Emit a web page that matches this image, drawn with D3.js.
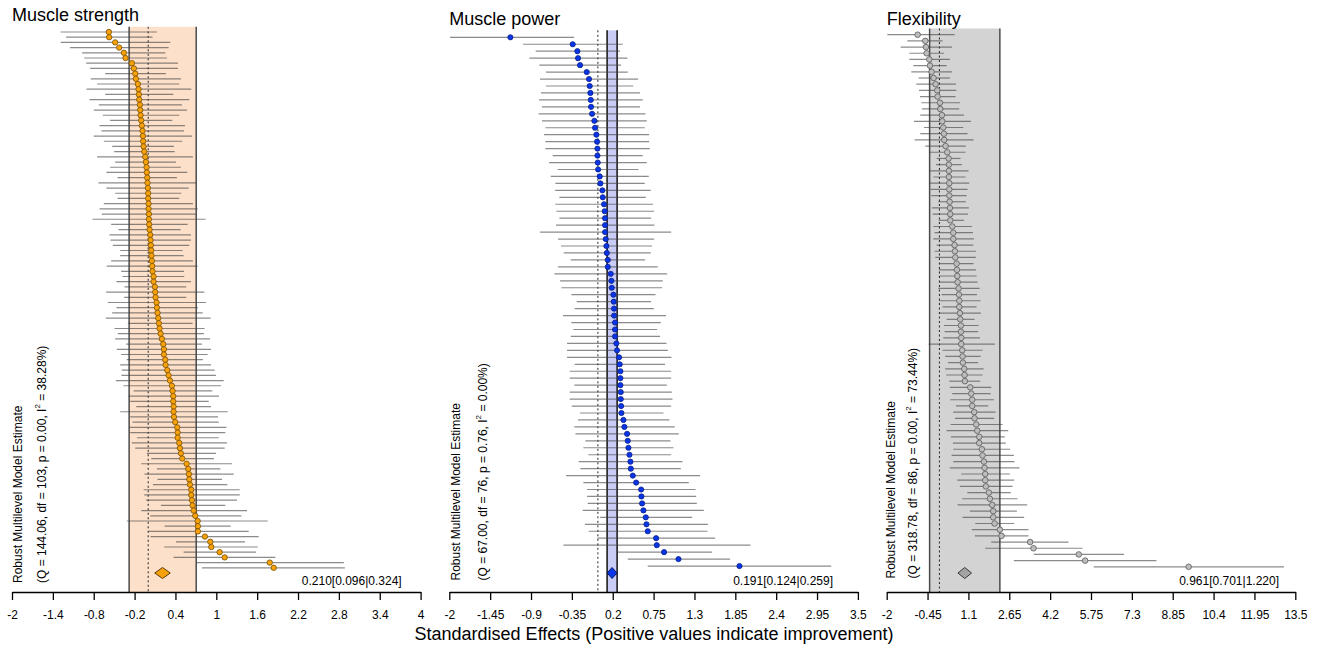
<!DOCTYPE html>
<html><head><meta charset="utf-8">
<script src="https://cdn.jsdelivr.net/npm/d3@7"></script>
<style>body{margin:0;background:#fff;} svg{display:block;font-family:"Liberation Sans",Arial,sans-serif;}</style>
</head><body><svg id="c" width="1319" height="648"></svg>
<script>
// ---------------- DATA ----------------
const panelTitles = ["Muscle strength", "Muscle power", "Flexibility"];

const strengthEst = [-0.578,-0.573,-0.485,-0.426,-0.357,-0.333,-0.24,-0.21,-0.19,-0.181,-0.152,-0.142,-0.137,-0.132,-0.122,-0.117,-0.112,-0.103,-0.093,-0.083,-0.078,-0.073,-0.068,-0.058,-0.044,-0.034,-0.024,-0.02,-0.014,-0.01,-0.005,0,0,
0.005,0.005,0.01,0.01,0.015,0.02,0.03,0.035,0.04,0.045,0.049,0.054,0.059,0.064,0.079,0.079,0.098,0.103,0.108,0.123,0.128,0.137,0.147,0.157,0.167,0.182,0.201,0.221,0.231,0.231,0.25,0.255,0.28,0.299,0.319,0.348,0.358,0.368,
0.368,0.373,0.373,0.378,0.397,0.427,0.432,0.432,0.456,0.466,0.481,0.5,0.564,0.588,0.598,0.603,0.613,0.632,0.632,0.642,0.652,0.667,0.691,0.726,0.73,0.73,0.833,0.912,0.927,1.049,1.123,1.785,1.843];
const strengthLo = [-1.284,-1.206,-1.284,-1.147,-0.97,-0.94,-0.911,-0.853,-0.632,-0.843,-0.75,-0.906,-0.632,-0.862,-0.725,-0.799,-0.666,-0.559,-0.715,-0.686,-0.799,-0.652,-0.529,-0.5,-0.75,-0.485,-0.559,-0.613,-0.45,-0.73,-0.613,-0.485,-0.45,
-0.652,-0.715,-0.681,-0.818,-0.544,-0.436,-0.568,-0.554,-0.519,-0.412,-0.412,-0.544,-0.608,-0.397,-0.377,-0.466,-0.348,-0.618,-0.353,-0.593,-0.466,-0.529,-0.622,-0.299,-0.495,-0.446,-0.485,-0.323,-0.461,-0.397,-0.314,-0.412,-0.387,-0.392,-0.475,-0.363,-0.215,-0.289,
-0.264,-0.176,-0.412,-0.264,-0.23,-0.274,-0.264,-0.166,-0.24,-0.191,-0.02,0.044,-0.103,0.128,-0.054,0.137,0.069,-0.068,-0.058,-0.029,0.187,-0.103,0.03,-0.313,0.24,0,0.035,0.407,0.235,0.52,0.373,0.706,0.79];
const strengthHi = [0.128,0.064,0.324,0.3,0.25,0.275,0.437,0.437,0.26,0.481,0.456,0.633,0.368,0.603,0.495,0.569,0.456,0.353,0.54,0.525,0.643,0.5,0.378,0.388,0.657,0.407,0.481,0.574,0.422,0.706,0.594,0.486,0.456,
0.657,0.726,0.701,0.843,0.579,0.476,0.628,0.628,0.603,0.505,0.52,0.657,0.726,0.525,0.53,0.628,0.559,0.824,0.559,0.848,0.73,0.799,0.917,0.652,0.829,0.819,0.907,0.79,0.922,0.873,0.804,0.922,0.976,0.995,1.108,1.069,0.941,1.04,
0.888,0.922,1.167,1.025,1.035,1.148,1.133,1.035,1.157,1.123,0.995,0.966,1.231,1.059,1.255,1.084,1.162,1.344,1.344,1.304,1.133,1.451,1.368,1.755,1.211,1.476,1.623,1.422,1.608,1.584,1.868,2.873,2.888];

const powerEst = [-1.178,-0.339,-0.276,-0.267,-0.24,-0.15,-0.119,-0.11,-0.101,-0.096,-0.092,-0.078,-0.047,-0.038,-0.02,-0.011,-0.006,-0.006,-0.002,0.003,0.025,0.034,0.061,0.066,
0.083,0.092,0.097,0.097,0.097,0.106,0.115,0.12,0.133,0.133,0.173,0.182,0.187,0.209,0.214,0.218,0.218,0.231,0.231,0.231,0.249,0.258,0.285,0.294,0.303,0.303,0.303,0.308,0.308,
0.313,0.317,0.344,0.357,0.393,0.402,0.411,0.425,0.438,0.443,0.47,0.515,0.582,0.586,0.595,0.613,0.645,0.654,0.671,0.784,0.793,0.891,1.085,1.906];
const powerLo = [-1.99,-1.007,-0.837,-0.922,-0.788,-0.698,-0.778,-0.698,-0.765,-0.792,-0.752,-0.797,-0.752,-0.707,-0.725,-0.707,-0.707,-0.608,-0.657,-0.541,-0.635,-0.572,-0.576,-0.518,
-0.572,-0.559,-0.518,-0.563,-0.778,-0.536,-0.496,-0.46,-0.365,-0.536,-0.585,-0.509,-0.491,-0.357,-0.285,-0.312,-0.469,-0.357,-0.329,-0.365,-0.415,-0.415,-0.415,-0.312,-0.379,-0.379,-0.316,-0.379,-0.379,
-0.352,-0.24,-0.267,-0.316,-0.302,-0.168,-0.195,-0.128,-0.258,-0.235,-0.428,-0.195,-0.146,-0.146,-0.137,-0.204,0.03,-0.173,-0.123,-0.006,-0.464,0.254,0.402,0.671];
const powerHi = [-0.32,0.335,0.299,0.398,0.313,0.402,0.541,0.478,0.568,0.604,0.568,0.64,0.658,0.631,0.69,0.69,0.699,0.604,0.658,0.546,0.685,0.631,0.712,0.645,
0.743,0.757,0.716,0.761,0.986,0.757,0.73,0.712,0.636,0.806,0.932,0.873,0.864,0.775,0.716,0.752,0.918,0.846,0.797,0.837,0.923,0.941,0.99,0.905,0.986,0.986,0.927,0.995,1.004,
0.986,0.882,0.963,1.035,1.089,0.977,1.017,0.986,1.138,1.116,1.376,1.224,1.314,1.323,1.332,1.426,1.269,1.48,1.475,1.578,2.054,1.538,1.78,3.141];

const flexEst = [-0.827,-0.536,-0.511,-0.486,-0.385,-0.359,-0.296,-0.221,-0.145,-0.082,-0.069,0.02,0.032,0.095,0.108,0.146,0.171,0.184,0.234,0.297,0.348,0.36,0.36,0.36,0.373,0.373,0.373,
0.386,0.398,0.411,0.411,0.487,0.525,0.525,0.575,0.588,0.601,0.651,0.664,0.677,0.689,0.727,0.74,0.752,0.752,0.777,0.79,0.815,0.815,0.828,0.828,0.866,0.878,0.891,0.942,0.954,0.967,1.169,1.207,1.245,
1.245,1.32,1.333,1.396,1.434,1.51,1.51,1.611,1.636,1.687,1.712,1.737,1.737,1.763,1.876,1.914,2.003,2.04,2.04,2.091,2.293,2.356,3.442,3.569,5.287,5.527,9.455];
const flexLo = [-1.976,-1.218,-1.471,-1.143,-1.143,-0.991,-1.067,-0.789,-0.877,-0.776,-0.738,-0.688,-0.663,-0.726,-0.966,-0.587,-0.726,-0.941,-0.537,-0.385,-0.107,-0.132,-0.385,-0.233,-0.385,-0.334,-0.309,
-0.043,-0.284,-0.258,-0.031,-0.233,-0.183,-0.233,-0.107,-0.183,-0.157,-0.006,-0.018,-0.006,-0.018,-0.043,0.083,-0.006,0.12,0.02,0.272,0.171,0.196,0.146,-0.41,0.12,0.222,0.323,0.222,0.26,0.373,0.398,0.487,0.411,
0.626,0.525,0.588,0.424,0.272,0.436,0.512,0.525,0.462,0.525,0.398,0.828,0.676,0.777,1.055,0.866,0.689,1.156,0.878,1.358,1.232,1.346,1.965,1.737,3.581,2.823,5.855];
const flexHi = [0.575,0.12,0.474,0.171,0.398,0.272,0.474,0.398,0.626,0.639,0.613,0.778,0.752,0.929,1.194,0.904,1.068,1.295,1.005,0.992,0.803,0.853,1.106,0.992,1.131,1.068,1.03,
1.005,1.118,1.081,0.929,1.232,1.27,1.308,1.283,1.384,1.384,1.295,1.384,1.409,1.447,1.523,1.422,1.561,1.409,1.573,1.333,1.485,1.472,1.535,2.104,1.636,1.561,1.472,1.674,1.636,1.548,1.965,1.94,2.066,
1.851,2.129,2.078,2.394,2.609,2.482,2.52,2.685,2.824,2.849,3.038,2.672,2.836,2.773,2.71,2.963,3.329,2.937,3.215,2.836,3.379,3.379,4.895,5.426,7.004,8.23,13.067];

const summaryEst = [0.210, 0.191, 0.961];
const summaryLo  = [0.096, 0.124, 0.701];
const summaryHi  = [0.324, 0.259, 1.220];
const bandLo = [-0.28, 0.124, -0.372];
const bandHi = [0.705, 0.259, 2.293];

const statQ  = ["144.06", "67.00", "318.78"];
const statDf = ["103", "76", "86"];
const statP  = ["0.00", "0.76", "0.00"];
const statI2 = ["38.28", "0.00", "73.44"];

const tickStrength = [-2,-1.4,-0.8,-0.2,0.4,1,1.6,2.2,2.8,3.4,4];
const tickPower    = [-2,-1.45,-0.9,-0.35,0.2,0.75,1.3,1.85,2.4,2.95,3.5];
const tickFlex     = [-2,-0.45,1.1,2.65,4.2,5.75,7.3,8.85,10.4,11.95,13.5];

const xTitle = "Standardised Effects (Positive values indicate improvement)";

// ---------------- LAYOUT / STYLE ----------------
const panels = [
  {est: strengthEst, lo: strengthLo, hi: strengthHi, ticks: tickStrength,
   left: 12, top: 32, titleY: 21, rot1: 18.3, rot2: 41.5, rotY: 583, sumX: 401.7,
   band: "#fde0ca", bandLine: "#4a4a4a", fill: "#f7a20c", stroke: "#7a4e00", dFill: "#f7a20c", dStroke: "#5a3a00", r: 2.7},
  {est: powerEst, lo: powerLo, hi: powerHi, ticks: tickPower,
   left: 449.3, top: 37.3, titleY: 24.5, rot1: 456, rot2: 483.3, rotY: 580.5, sumX: 833,
   band: "#c9cdf6", bandLine: "#111111", fill: "#0a35e6", stroke: "#0a1f8a", dFill: "#0a35e6", dStroke: "#061660", r: 2.6},
  {est: flexEst, lo: flexLo, hi: flexHi, ticks: tickFlex,
   left: 886.7, top: 34.7, titleY: 24.5, rot1: 890.7, rot2: 912.7, rotY: 578.5, sumX: 1279,
   band: "#d3d3d3", bandLine: "#4a4a4a", fill: "#bdbdbd", stroke: "#5a5a5a", dFill: "#a3a3a3", dStroke: "#3a3a3a", r: 2.8}
];
const axisW = 408.6, axisY = 592, lastY = 573;

const svg = d3.select("#c");
svg.append("rect").attr("width", 1319).attr("height", 648).attr("fill", "#fff");

panels.forEach((p, pi) => {
  const n = p.est.length;
  const x = d3.scaleLinear().domain([p.ticks[0], p.ticks[p.ticks.length - 1]]).range([p.left, p.left + axisW]);
  const y = d3.scaleLinear().domain([0, n]).range([p.top, lastY]);
  const g = svg.append("g");

  // band
  g.append("rect")
    .attr("x", x(bandLo[pi])).attr("y", y(-1))
    .attr("width", x(bandHi[pi]) - x(bandLo[pi])).attr("height", axisY - y(-1))
    .attr("fill", p.band);
  [bandLo[pi], bandHi[pi]].forEach(v => {
    g.append("line").attr("x1", x(v)).attr("x2", x(v)).attr("y1", y(-1)).attr("y2", axisY)
      .attr("stroke", p.bandLine).attr("stroke-width", 1.5);
  });
  // null line
  g.append("line").attr("x1", x(0)).attr("x2", x(0)).attr("y1", y(-1)).attr("y2", axisY)
    .attr("stroke", "#222").attr("stroke-width", 1).attr("stroke-dasharray", "2,2.5");

  const rows = d3.range(n).map(i => ({i, e: p.est[i], l: p.lo[i], h: p.hi[i]}));
  // error bars
  g.selectAll("line.err").data(rows).join("line")
    .attr("class", "err")
    .attr("x1", d => x(d.l)).attr("x2", d => x(d.h))
    .attr("y1", d => y(d.i)).attr("y2", d => y(d.i))
    .attr("stroke", "#444").attr("stroke-opacity", 0.62).attr("stroke-width", 1.2);
  // points
  g.selectAll("circle.pt").data(rows).join("circle")
    .attr("class", "pt")
    .attr("cx", d => x(d.e)).attr("cy", d => y(d.i)).attr("r", p.r)
    .attr("fill", p.fill).attr("stroke", p.stroke).attr("stroke-width", 0.8);

  // diamond
  const dy = y(n), hh = 5.5;
  g.append("path")
    .attr("d", `M${x(summaryLo[pi])},${dy} L${x(summaryEst[pi])},${dy - hh} L${x(summaryHi[pi])},${dy} L${x(summaryEst[pi])},${dy + hh} Z`)
    .attr("fill", p.dFill).attr("stroke", p.dStroke).attr("stroke-width", 1);

  // axis
  const ax = g.append("g").attr("transform", `translate(0,${axisY})`)
    .call(d3.axisBottom(x).tickValues(p.ticks).tickFormat(d => String(d)).tickSize(8).tickSizeOuter(0).tickPadding(10));
  ax.select(".domain").attr("stroke", "#000").attr("stroke-width", 1.5);
  ax.selectAll(".tick line").attr("stroke", "#000").attr("stroke-width", 1.3);
  ax.selectAll(".tick text").attr("font-size", 12).attr("fill", "#000")
    .attr("font-family", '"Liberation Sans",Arial,sans-serif');

  // title
  svg.append("text").attr("x", p.left).attr("y", p.titleY).attr("font-size", 18).attr("fill", "#000")
    .text(panelTitles[pi]);

  // summary label
  const f = d3.format(".3f");
  svg.append("text").attr("x", p.sumX).attr("y", 585).attr("text-anchor", "end").attr("font-size", 12)
    .attr("fill", "#000")
    .text(`${f(summaryEst[pi])}[${f(summaryLo[pi])}|${f(summaryHi[pi])}]`);

  // rotated stats
  svg.append("text").attr("transform", `translate(${p.rot1},${p.rotY}) rotate(-90)`)
    .attr("dominant-baseline", "central").attr("font-size", 12).attr("fill", "#000")
    .text("Robust Multilevel Model Estimate");
  const t2 = svg.append("text").attr("transform", `translate(${p.rot2},${p.rotY}) rotate(-90)`)
    .attr("dominant-baseline", "central").attr("font-size", 12).attr("fill", "#000");
  t2.append("tspan").text(`(Q = ${statQ[pi]}, df = ${statDf[pi]}, p = ${statP[pi]}, I`);
  t2.append("tspan").attr("font-size", 8).attr("dy", -5).text("2");
  t2.append("tspan").attr("dy", 5).text(` = ${statI2[pi]}%)`);
});

svg.append("text").attr("x", 654).attr("y", 640).attr("text-anchor", "middle")
  .attr("font-size", 18).attr("fill", "#000").text(xTitle);
</script>
</body></html>
